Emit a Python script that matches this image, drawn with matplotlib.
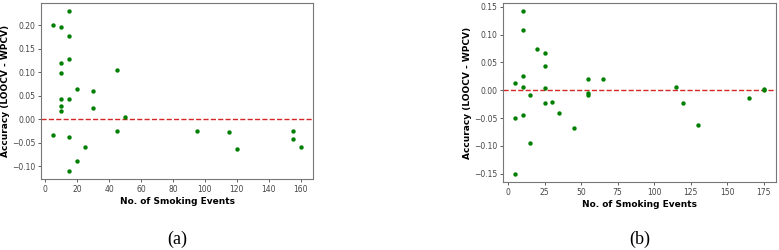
import matplotlib.pyplot as plt

# Panel (a) data
events_a = [5, 10, 15, 15, 15, 10, 10, 10, 10, 10, 20, 15, 30, 30, 45, 50,
            45, 5, 15, 25, 20, 15, 95, 115, 120, 155, 155, 160]
diff_a = [0.200, 0.195, 0.230, 0.177, 0.128, 0.119, 0.099, 0.044, 0.028, 0.018,
          0.064, 0.044, 0.061, 0.023, 0.105, 0.004, -0.024, -0.033, -0.037,
          -0.060, -0.088, -0.110, -0.024, -0.027, -0.063, -0.026, -0.041, -0.058]

# Panel (b) data
events_b = [10, 10, 20, 25, 25, 5, 10, 10, 25, 15, 25, 30, 35, 45, 5, 10, 15,
            5, 55, 55, 55, 65, 115, 120, 130, 165, 175, 175]
diff_b = [0.142, 0.108, 0.074, 0.066, 0.043, 0.013, 0.025, 0.005, 0.004, -0.009,
          -0.023, -0.021, -0.041, -0.067, -0.049, -0.045, -0.095, -0.150, 0.020,
          -0.004, -0.008, 0.020, 0.005, -0.023, -0.062, -0.013, 0.003, 0.000]

fig = plt.figure(figsize=(7.79, 2.5), dpi=100)

ax_a = fig.add_axes([41 / 779, 71 / 250, 272 / 779, 176 / 250])
ax_b = fig.add_axes([503 / 779, 68 / 250, 273 / 779, 179 / 250])

for ax, x, y, cap in [(ax_a, events_a, diff_a, '(a)'), (ax_b, events_b, diff_b, '(b)')]:
    ax.scatter(x, y, s=10, color='green', zorder=3, linewidths=0)
    ax.axhline(0, color='#d62728', linestyle='--', linewidth=1.0)
    ax.set_xlabel('No. of Smoking Events', fontsize=6.5, fontweight='bold', labelpad=2)
    ax.set_ylabel('Accuracy (LOOCV - WPCV)', fontsize=6.5, fontweight='bold', labelpad=1)
    ax.tick_params(labelsize=5.5, length=2.5, width=0.6, pad=1.7, colors='#444444')
    for sp in ax.spines.values():
        sp.set_color('#777777')
        sp.set_linewidth(0.8)
    pos = ax.get_position()
    fig.text((pos.x0 + pos.x1) / 2, 11 / 250, cap, ha='center', va='center',
             fontsize=13, family='Liberation Serif')

ax_a.set_xticks([0, 20, 40, 60, 80, 100, 120, 140, 160])
ax_a.set_yticks([-0.10, -0.05, 0.00, 0.05, 0.10, 0.15, 0.20])
ax_b.set_xticks([0, 25, 50, 75, 100, 125, 150, 175])
ax_b.set_yticks([-0.15, -0.10, -0.05, 0.00, 0.05, 0.10, 0.15])

plt.savefig('out.png', dpi=100)
